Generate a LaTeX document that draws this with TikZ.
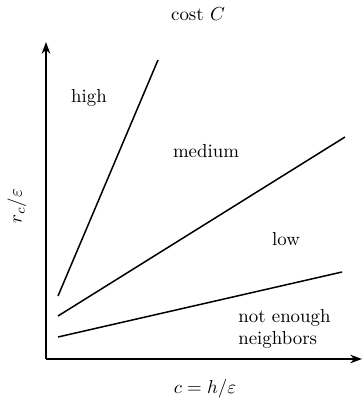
\documentclass[tikz,border=0pt]{standalone}
\usetikzlibrary{arrows.meta}
\begin{document}
\begin{tikzpicture}[x=0.01864cm,y=-0.01864cm,
  axis/.style={line width=1pt,-{Stealth[length=2.2mm,width=1.6mm]}},
  boundary/.style={line width=0.8pt},
  lbl/.style={inner sep=0pt,font=\normalsize}]
\useasboundingbox (0,0) rectangle (362,404);
\coordinate (O) at (46,359);
\coordinate (Ytop) at (46,42);
\coordinate (Xend) at (362,359);
\draw[axis] (O) -- (Ytop);
\draw[axis] (O) -- (Xend);
\coordinate (a1) at (58,296); \coordinate (b1) at (158,60);
\coordinate (a2) at (58,316); \coordinate (b2) at (345,137);
\coordinate (a3) at (58,337); \coordinate (b3) at (342,272);
\draw[boundary] (a1) -- (b1);
\draw[boundary] (a2) -- (b2);
\draw[boundary] (a3) -- (b3);
\node[lbl] (cost) at (198,14) {cost $C$};
\node[lbl] (high) at (89,98) {high};
\node[lbl] (medium) at (206,151) {medium};
\node[lbl] (low) at (286,239) {low};
\node[lbl,align=left,anchor=west] (nen) at (238,329) {not enough\\neighbors};
\node[lbl,rotate=90] (ylab) at (17,206) {$r_c/\varepsilon$};
\node[lbl] (xlab) at (205,389) {$c = h/\varepsilon$};
\end{tikzpicture}
\end{document}
